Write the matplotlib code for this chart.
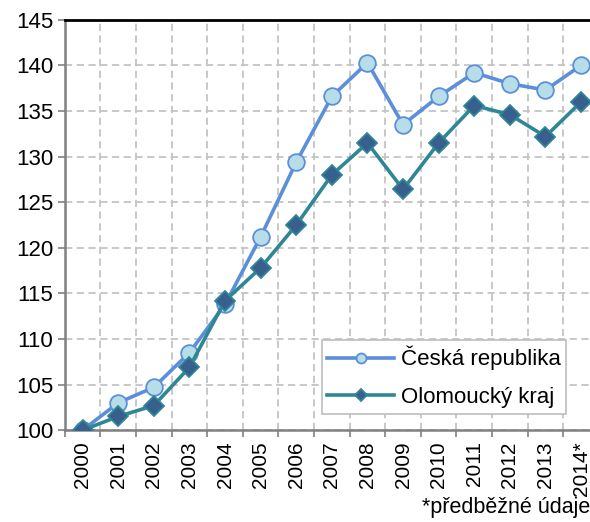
import matplotlib.pyplot as plt
import numpy as np

plt.rcParams['font.family'] = ['Liberation Sans', 'DejaVu Sans']

roky = ["2000", "2001", "2002", "2003", "2004", "2005", "2006", "2007",
        "2008", "2009", "2010", "2011", "2012", "2013", "2014*"]
ceska_republika = [100.0, 103.0, 104.7, 108.5, 113.8, 121.2, 129.4, 136.6,
                   140.3, 133.5, 136.6, 139.2, 138.0, 137.3, 140.0]
olomoucky_kraj = [100.0, 101.5, 102.7, 106.9, 114.2, 117.8, 122.5, 128.0,
                  131.5, 126.4, 131.5, 135.6, 134.6, 132.2, 136.0]

x = np.arange(len(roky))

fig = plt.figure(figsize=(5.9, 5.22), dpi=100)
ax = fig.add_axes([0.110, 0.176, 0.905, 0.786])

ax.plot(x, ceska_republika, color='#5B8FD9', lw=2.6, marker='o', markersize=12,
        markerfacecolor='#B7DEE8', markeredgecolor='#5B8FD9', markeredgewidth=1.3,
        label="Česká republika", zorder=3)
ax.plot(x, olomoucky_kraj, color='#2F8796', lw=2.6, marker='D', markersize=10,
        markerfacecolor='#37608F', markeredgecolor='#2F8796', markeredgewidth=1.3,
        label="Olomoucký kraj", zorder=4)

ax.set_xlim(-0.5, len(roky) - 0.5)
ax.set_ylim(100, 145)
ax.set_yticks(np.arange(100, 146, 5))

ax.set_xticks(x)
ax.set_xticklabels(roky, rotation=90, fontsize=15)
ax.set_xticks(np.arange(-0.5, len(roky), 1), minor=True)
ax.tick_params(axis='x', which='major', length=0, pad=8)
ax.tick_params(axis='x', which='minor', length=5, width=1.2, color='#808080', direction='out')
ax.tick_params(axis='y', labelsize=16, length=5, width=1.2, color='#808080', direction='out')

ax.grid(True, which='minor', axis='x', color='#C4C4C4', linestyle=(0, (4, 2.5)), lw=1.3)
ax.grid(True, which='major', axis='y', color='#C4C4C4', linestyle=(0, (4, 2.5)), lw=1.3)
ax.set_axisbelow(True)

ax.spines['top'].set_color('black')
ax.spines['top'].set_linewidth(2)
ax.spines['left'].set_color('#808080')
ax.spines['left'].set_linewidth(1.8)
ax.spines['bottom'].set_color('#808080')
ax.spines['bottom'].set_linewidth(1.8)
ax.spines['right'].set_visible(False)

leg = ax.legend(loc='lower left', bbox_to_anchor=(0.481, 0.04), fontsize=16,
                frameon=True, fancybox=False, edgecolor='#BEBEBE', framealpha=1,
                handlelength=3.0, handletextpad=0.3, markerscale=0.6,
                borderpad=0.25, labelspacing=0.75, borderaxespad=0)
leg.get_frame().set_linewidth(1.2)

fig.text(0.715, 0.018, "*předběžné údaje", fontsize=15.5)

fig.savefig("out.png", dpi=100)
